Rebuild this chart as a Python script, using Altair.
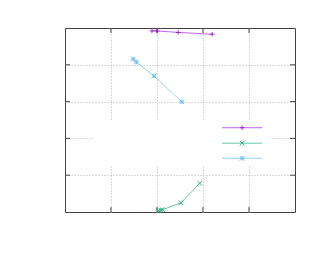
import altair as alt
import pandas as pd

# series data (axis units: x 0..5, y 0..5)
s1_x = [1.89, 2.00, 2.46, 3.20]
s1_y = [4.92, 4.92, 4.88, 4.83]
s2_x = [2.03, 2.08, 2.12, 2.52, 2.93]
s2_y = [0.035, 0.054, 0.06, 0.25, 0.78]
s3_x = [1.485, 1.55, 1.935, 2.54]
s3_y = [4.157, 4.076, 3.695, 2.995]

series_names = ["s1", "s2", "s3"]
colors = ["#9400d3", "#009e73", "#56b4e9"]
shapes = ["M-1,0L1,0M0,-1L0,1",
          "M-1,-1L1,1M1,-1L-1,1",
          "M-1,0L1,0M0,-1L0,1M-1,-1L1,1M1,-1L-1,1"]

tick_vals = [1, 2, 3, 4]

# legend layout (axis units)
legend_box = dict(x=0.61, x2=4.5, y=1.25, y2=2.48)
legend_x = [3.41, 4.29]
legend_mx = 3.85
legend_y = [2.29, 1.87, 1.46]

rows = []
for name, xs, ys in zip(series_names, [s1_x, s2_x, s3_x], [s1_y, s2_y, s3_y]):
    for i, (a, b) in enumerate(zip(xs, ys)):
        rows.append({"s": name, "x": a, "y": b, "o": i})
df = pd.DataFrame(rows)

xs = alt.Scale(domain=[0, 5], nice=False, zero=False)
ys = alt.Scale(domain=[0, 5], nice=False, zero=False)

grid_x = alt.Axis(values=tick_vals, labels=False, ticks=False, domain=False, grid=True,
                  gridColor="#b4b4b4", gridDash=[1, 2], gridWidth=1, title=None)
grid_y = alt.Axis(values=tick_vals, labels=False, ticks=False, domain=False, grid=True,
                  gridColor="#b4b4b4", gridDash=[1, 2], gridWidth=1, title=None)

tdf = pd.DataFrame({"t": tick_vals})

base_grid = alt.Chart(tdf).mark_rule(opacity=0).encode(
    x=alt.X("t:Q", scale=xs, axis=grid_x),
    y=alt.Y("t:Q", scale=ys, axis=grid_y),
)

box = alt.Chart(pd.DataFrame([legend_box])).mark_rect(color="white").encode(
    x=alt.X("x:Q", scale=xs), x2="x2:Q", y=alt.Y("y:Q", scale=ys), y2="y2:Q")

tick_col = "#444444"
tb = alt.Chart(tdf).mark_rule(color=tick_col).encode(
    x=alt.X("t:Q", scale=xs), y=alt.value(184), y2=alt.value(179))
tt = alt.Chart(tdf).mark_rule(color=tick_col).encode(
    x=alt.X("t:Q", scale=xs), y=alt.value(0), y2=alt.value(5))
tl = alt.Chart(tdf).mark_rule(color=tick_col).encode(
    y=alt.Y("t:Q", scale=ys), x=alt.value(0), x2=alt.value(5))
tr = alt.Chart(tdf).mark_rule(color=tick_col).encode(
    y=alt.Y("t:Q", scale=ys), x=alt.value(230), x2=alt.value(225))

layers = [base_grid, box, tb, tt, tl, tr]

for name, col, shp, ly in zip(series_names, colors, shapes, legend_y):
    d = df[df.s == name]
    layers.append(alt.Chart(d).mark_line(color=col, strokeWidth=1, opacity=0.6).encode(
        x=alt.X("x:Q", scale=xs), y=alt.Y("y:Q", scale=ys), order="o:Q"))
    layers.append(alt.Chart(d).mark_point(shape=shp, color=col, size=22, strokeWidth=1, opacity=0.8).encode(
        x=alt.X("x:Q", scale=xs), y=alt.Y("y:Q", scale=ys)))
    ld = pd.DataFrame({"x": [legend_x[0]], "x2": [legend_x[1]], "y": [ly], "mx": [legend_mx]})
    layers.append(alt.Chart(ld).mark_rule(color=col, strokeWidth=1, opacity=0.6).encode(
        x=alt.X("x:Q", scale=xs), x2="x2:Q", y=alt.Y("y:Q", scale=ys)))
    layers.append(alt.Chart(ld).mark_point(shape=shp, color=col, size=22, strokeWidth=1, opacity=0.8).encode(
        x=alt.X("mx:Q", scale=xs), y=alt.Y("y:Q", scale=ys)))

chart = alt.layer(*layers).properties(
    width=230, height=184,
    autosize=alt.AutoSizeParams(type="none"),
    padding={"left": 57, "top": 20, "right": 19, "bottom": 55},
    background="white",
).configure_view(stroke="#444444", strokeWidth=1)

chart.save("out.html", embed_options={"renderer": "svg", "actions": False})
